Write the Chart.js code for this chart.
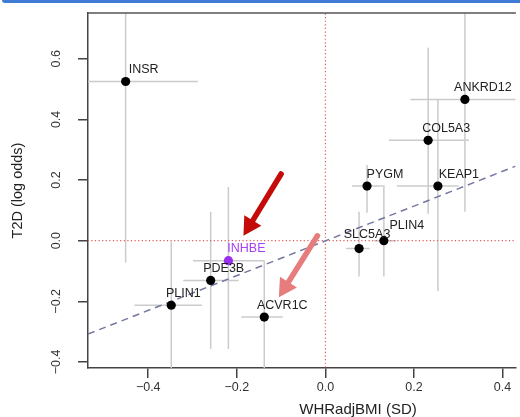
<!DOCTYPE html>
<html>
<head>
<meta charset="utf-8">
<script src="https://cdn.jsdelivr.net/npm/chart.js@4"></script>
<style>
  html, body { margin: 0; padding: 0; background: #fff; overflow: hidden; }
  #wrap { position: relative; width: 520px; height: 417px; }
  #band { position: absolute; left: 2px; top: 0; width: 518px; height: 3px; background: #3f7bd4; border-bottom-left-radius: 3px; }
  canvas { position: absolute; left: 0; top: 0; }
</style>
</head>
<body>
<div id="wrap">
  <canvas id="chart" width="520" height="417" style="width:520px;height:417px"></canvas>
  <div id="band"></div>
</div>
<script>
// gene-level estimates
const genes = ['INSR', 'ANKRD12', 'COL5A3', 'KEAP1', 'PYGM', 'PLIN4', 'SLC5A3', 'INHBE', 'PDE3B', 'PLIN1', 'ACVR1C'];
const whr = [-0.451, 0.315, 0.232, 0.254, 0.094, 0.132, 0.076, -0.219, -0.259, -0.348, -0.138];
const t2d = [0.525, 0.466, 0.331, 0.180, 0.180, 0.000, -0.026, -0.066, -0.131, -0.213, -0.252];
const whrLo = [-0.60, 0.192, 0.143, 0.161, 0.060, 0.110, 0.047, -0.299, -0.321, -0.431, -0.190];
const whrHi = [-0.288, 0.60, 0.324, 0.301, 0.134, 0.160, 0.100, -0.138, -0.196, -0.279, -0.096];
const t2dLo = [-0.072, 0.095, 0.089, -0.167, 0.092, -0.118, -0.118, -0.357, -0.357, -0.50, -0.50];
const t2dHi = [0.90, 0.90, 0.636, 0.466, 0.250, 0.177, 0.095, 0.177, 0.095, -0.003, -0.066];

// dashed fit line end points
const fitX = [-0.536, 0.43];
const fitY = [-0.308, 0.246];

const xTicks = [-0.4, -0.2, 0.0, 0.2, 0.4];
const yTicks = [-0.4, -0.2, 0.0, 0.2, 0.4, 0.6];

// annotation arrows: [fromX, fromY, toX, toY]
const arrows = [
    [-0.100, 0.220, -0.185, 0.016],
    [-0.018, 0.016, -0.105, -0.187],
];

const highlight = 'INHBE';
const fmt = (v) => (v < 0 ? '\u2212' : '') + Math.abs(v).toFixed(1);

// label nudges (px) where the default offset would collide
const labelNudge = { KEAP1: [21, -12], PLIN4: [23, -15], SLC5A3: [8, -14], PLIN1: [12, -12], PDE3B: [13, -12] };

const FONT = '"Liberation Sans", Arial, Helvetica, sans-serif';

const overlay = {
    id: 'overlay',
    beforeDatasetsDraw(chart) {
        const { ctx, chartArea: a, scales: { x, y } } = chart;
        ctx.save();
        ctx.beginPath();
        ctx.rect(a.left, a.top, a.right - a.left, a.bottom - a.top);
        ctx.clip();
        ctx.strokeStyle = '#cbcbcb';
        ctx.lineWidth = 1.5;
        genes.forEach((g, i) => {
            const px = x.getPixelForValue(whr[i]);
            const py = y.getPixelForValue(t2d[i]);
            ctx.beginPath();
            ctx.moveTo(x.getPixelForValue(whrLo[i]), py);
            ctx.lineTo(x.getPixelForValue(whrHi[i]), py);
            ctx.moveTo(px, y.getPixelForValue(t2dLo[i]));
            ctx.lineTo(px, y.getPixelForValue(t2dHi[i]));
            ctx.stroke();
        });
        ctx.restore();
    },
    afterDatasetsDraw(chart) {
        const { ctx, chartArea: a, scales: { x, y } } = chart;
        ctx.save();

        // point labels
        ctx.font = '12.5px ' + FONT;
        ctx.textAlign = 'center';
        ctx.textBaseline = 'middle';
        genes.forEach((g, i) => {
            const [dx, dy] = labelNudge[g] || [18, -12];
            ctx.fillStyle = g === highlight ? '#a63ff0' : '#222';
            ctx.fillText(g, x.getPixelForValue(whr[i]) + dx, y.getPixelForValue(t2d[i]) + dy);
        });

        // arrows
        const arrowColors = ['#c50a0a', '#e67c7c'];
        arrows.forEach(([fx, fy, tx, ty], k) => {
            const x0 = x.getPixelForValue(fx), y0 = y.getPixelForValue(fy);
            const x1 = x.getPixelForValue(tx), y1 = y.getPixelForValue(ty);
            const ang = Math.atan2(y1 - y0, x1 - x0);
            const headLen = 18, headW = 10;
            const bx = x1 - headLen * Math.cos(ang), by = y1 - headLen * Math.sin(ang);
            ctx.strokeStyle = arrowColors[k];
            ctx.fillStyle = arrowColors[k];
            ctx.lineWidth = 5.5;
            ctx.lineCap = 'round';
            ctx.beginPath();
            ctx.moveTo(x0, y0);
            ctx.lineTo(bx + 2 * Math.cos(ang), by + 2 * Math.sin(ang));
            ctx.stroke();
            ctx.beginPath();
            ctx.moveTo(x1, y1);
            ctx.lineTo(bx + headW * Math.sin(ang), by - headW * Math.cos(ang));
            ctx.lineTo(bx - headW * Math.sin(ang), by + headW * Math.cos(ang));
            ctx.closePath();
            ctx.fill();
        });

        // top frame
        ctx.strokeStyle = '#555';
        ctx.lineWidth = 1.5;
        ctx.beginPath();
        ctx.moveTo(a.left, a.top);
        ctx.lineTo(a.right, a.top);
        ctx.stroke();

        // y tick labels, rotated like base R
        ctx.fillStyle = '#333';
        ctx.font = '12.5px ' + FONT;
        ctx.textAlign = 'center';
        ctx.textBaseline = 'middle';
        yTicks.forEach((v) => {
            ctx.save();
            ctx.translate(57, y.getPixelForValue(v));
            ctx.rotate(-Math.PI / 2);
            ctx.fillText(fmt(v), 0, 0);
            ctx.restore();
        });

        // axis titles
        ctx.fillStyle = '#222';
        ctx.font = '14.5px ' + FONT;
        ctx.save();
        ctx.translate(18, (a.top + a.bottom) / 2);
        ctx.rotate(-Math.PI / 2);
        ctx.fillText('T2D (log odds)', 0, 0);
        ctx.restore();
        ctx.font = '15px ' + FONT;
        ctx.fillText('WHRadjBMI (SD)', 358, 410);

        ctx.restore();
    },
};

new Chart(document.getElementById('chart'), {
    type: 'scatter',
    data: {
        datasets: [
            {
                data: genes.map((g, i) => ({ x: whr[i], y: t2d[i] })),
                pointRadius: 4.6,
                pointHoverRadius: 4.6,
                pointBorderWidth: 0,
                pointBackgroundColor: genes.map((g) => (g === highlight ? '#9b2ff0' : '#000')),
            },
            {
                type: 'line',
                data: fitX.map((v, i) => ({ x: v, y: fitY[i] })),
                borderColor: '#7478a0',
                borderWidth: 1.5,
                borderDash: [7, 5],
                pointRadius: 0,
            },
            {
                type: 'line',
                data: [{ x: 0, y: -1 }, { x: 0, y: 1 }],
                borderColor: '#e25a5a',
                borderWidth: 1.2,
                borderDash: [1.2, 2.4],
                pointRadius: 0,
            },
            {
                type: 'line',
                data: [{ x: -1, y: 0 }, { x: 1, y: 0 }],
                borderColor: '#e25a5a',
                borderWidth: 1.2,
                borderDash: [1.2, 2.4],
                pointRadius: 0,
            },
        ],
    },
    options: {
        responsive: false,
        animation: false,
        events: [],
        layout: { padding: { top: 13, right: 0, left: 0, bottom: 0 } },
        plugins: { legend: { display: false }, tooltip: { enabled: false } },
        scales: {
            x: {
                type: 'linear',
                min: -0.536,
                max: 0.429,
                afterBuildTicks: (s) => { s.ticks = xTicks.map((v) => ({ value: v })); },
                afterFit: (s) => { s.height = 49; s.paddingLeft = 0; s.paddingRight = 0; },
                grid: { drawOnChartArea: false, drawTicks: true, tickLength: 10, color: '#444', lineWidth: 1.5 },
                border: { display: true, color: '#444', width: 1.5 },
                ticks: { padding: 2, color: '#333', font: { family: FONT, size: 12.5 }, callback: (v) => fmt(v), maxRotation: 0 },
            },
            y: {
                type: 'linear',
                min: -0.42,
                max: 0.751,
                afterBuildTicks: (s) => { s.ticks = yTicks.map((v) => ({ value: v })); },
                afterFit: (s) => { s.width = 88; },
                grid: { drawOnChartArea: false, drawTicks: true, tickLength: 10, color: '#444', lineWidth: 1.5 },
                border: { display: true, color: '#444', width: 1.5 },
                ticks: { display: false },
            },
        },
    },
    plugins: [overlay],
});
</script>
</body>
</html>
